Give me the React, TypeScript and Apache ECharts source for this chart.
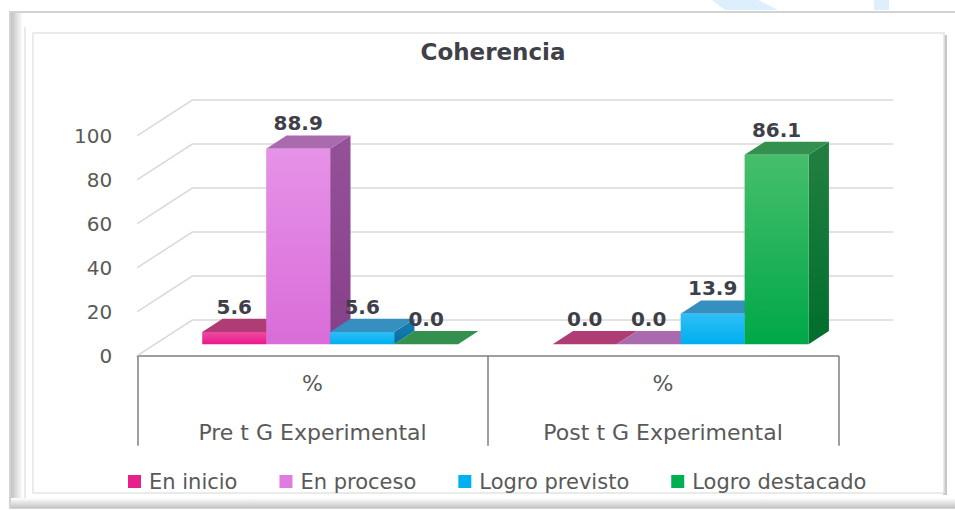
import React, { useEffect, useRef } from "react";
import * as echarts from "echarts";

const titleText = "Coherencia";
const categories = ["Pre t G Experimental", "Post t G Experimental"];
const innerLabel = "%";
const seriesNames = ["En inicio", "En proceso", "Logro previsto", "Logro destacado"];
const preValues = [5.6, 88.9, 5.6, 0.0];
const postValues = [0.0, 0.0, 13.9, 86.1];
const yTicks = [0, 20, 40, 60, 80, 100];

const palette = [
  { legend: "#E8208C", frontTop: "#F04A9F", frontBottom: "#E91A8A", top: "#B03C76", sideTop: "#A0306A", sideBottom: "#8E1E58" },
  { legend: "#E07BE2", frontTop: "#E692E8", frontBottom: "#D96CD8", top: "#AA6BAE", sideTop: "#945198", sideBottom: "#86408A" },
  { legend: "#00B0F0", frontTop: "#2EBEF7", frontBottom: "#00AEEF", top: "#3590C0", sideTop: "#1680B4", sideBottom: "#0A6E9E" },
  { legend: "#00B050", frontTop: "#46BE6B", frontBottom: "#00A848", top: "#34904F", sideTop: "#22803F", sideBottom: "#006E2E" },
];

const FONT = '"DejaVu Sans", Verdana, sans-serif';
const DX = 55;
const DY = 35.7;
const D1 = 0.32;
const D2 = 0.69;
const GROUP = 0.73;

function makeBarRender(s: number) {
  const p = palette[s];
  return (params: any, api: any) => {
    const ci = api.value(0);
    const v = api.value(1);
    const top = api.coord([ci, v]);
    const base = api.coord([ci, 0]);
    const band = api.size([1, 0])[0];
    const gw = band * GROUP;
    const bw = gw / 4;
    const x0 = top[0] - gw / 2 + s * bw;
    const fx = x0 + D1 * DX;
    const fyT = top[1] - D1 * DY;
    const fyB = base[1] - D1 * DY;
    const bdx = (D2 - D1) * DX;
    const bdy = (D2 - D1) * DY;
    const children: any[] = [];
    if (fyB - fyT > 0.5) {
      children.push({
        type: "polygon",
        shape: { points: [[fx + bw, fyT], [fx + bw + bdx, fyT - bdy], [fx + bw + bdx, fyB - bdy], [fx + bw, fyB]] },
        style: {
          fill: new echarts.graphic.LinearGradient(0, 0, 0, 1, [
            { offset: 0, color: p.sideTop },
            { offset: 1, color: p.sideBottom },
          ]),
        },
      });
    }
    children.push({
      type: "polygon",
      shape: { points: [[fx, fyT], [fx + bw, fyT], [fx + bw + bdx, fyT - bdy], [fx + bdx, fyT - bdy]] },
      style: { fill: p.top },
    });
    if (fyB - fyT > 0.5) {
      children.push({
        type: "rect",
        shape: { x: fx, y: fyT, width: bw, height: fyB - fyT },
        style: {
          fill: new echarts.graphic.LinearGradient(0, 0, 0, 1, [
            { offset: 0, color: p.frontTop },
            { offset: 1, color: p.frontBottom },
          ]),
        },
      });
    }
    children.push({
      type: "text",
      x: fx + bw / 2,
      y: fyT - bdy - 2,
      style: {
        text: Number(v).toFixed(1),
        align: "center",
        verticalAlign: "bottom",
        textAlign: "center",
        textVerticalAlign: "bottom",
        font: `bold 20px ${FONT}`,
        fill: "#3f3f4a",
      },
    });
    return { type: "group", children };
  };
}

export default function App() {
  const ref = useRef<HTMLDivElement>(null);
  useEffect(() => {
    if (!ref.current) return;
    const chart = echarts.init(ref.current, null, { renderer: "svg" });
    const wallSeries = {
      type: "custom",
      name: "walls",
      z: 1,
      silent: true,
      encode: { x: 0, y: 1 },
      data: yTicks.map((t) => [0, t]),
      renderItem: (params: any, api: any) => {
        const v = api.value(1);
        const cs = params.coordSys;
        const y = api.coord([0, v])[1];
        const xl = cs.x;
        const xr = cs.x + cs.width;
        return {
          type: "polyline",
          shape: { points: [[xl, y], [xl + DX, y - DY], [xr + DX, y - DY]] },
          style: { stroke: "#d9d9d9", lineWidth: 1.5, fill: null },
        };
      },
    };
    const barSeries = seriesNames.map((name, s) => ({
      type: "custom",
      name,
      z: 3,
      encode: { x: 0, y: 1 },
      itemStyle: { color: palette[s].legend },
      data: [
        [0, preValues[s]],
        [1, postValues[s]],
      ],
      renderItem: makeBarRender(s),
    }));
    const frameGraphics: any[] = [
      { type: "polygon", z: -20, shape: { points: [[712, 0], [758, 0], [778, 10], [725, 10]] }, style: { fill: "#ddeefc" } },
      { type: "rect", z: -20, shape: { x: 874, y: 0, width: 15, height: 10 }, style: { fill: "#ddeefc" } },
      { type: "rect", z: -15, shape: { x: 10, y: 12, width: 960, height: 496 }, style: { fill: "#ffffff", stroke: "#d2d2d2", lineWidth: 2 } },
      {
        type: "rect", z: -14, shape: { x: 11, y: 13, width: 12, height: 494 },
        style: { fill: new echarts.graphic.LinearGradient(0, 0, 1, 0, [{ offset: 0, color: "#c2c2c2" }, { offset: 1, color: "#ffffff" }]) },
      },
      {
        type: "rect", z: -14, shape: { x: 11, y: 498, width: 950, height: 10 },
        style: { fill: new echarts.graphic.LinearGradient(0, 0, 0, 1, [{ offset: 0, color: "#ffffff" }, { offset: 1, color: "#c4c4c4" }]) },
      },
      { type: "line", z: -13, shape: { x1: 25, y1: 27, x2: 25, y2: 498 }, style: { stroke: "#d6d6d6", lineWidth: 1 } },
      { type: "rect", z: -12, shape: { x: 943, y: 35, width: 4, height: 460 }, style: { fill: "#c6c6c6" } },
      { type: "rect", z: -11, shape: { x: 33, y: 33, width: 911, height: 460 }, style: { fill: "#ffffff", stroke: "#e4e4e4", lineWidth: 1.5 } },
    ];
    chart.setOption({
      animation: false,
      backgroundColor: "#ffffff",
      title: {
        text: titleText,
        left: 488,
        top: 35,
        textAlign: "center",
        textStyle: { fontFamily: FONT, fontSize: 23, fontWeight: "bold", color: "#404048" },
      },
      legend: {
        data: seriesNames,
        left: 128,
        top: 471,
        icon: "rect",
        itemWidth: 13,
        itemHeight: 13,
        itemGap: 42,
        padding: 0,
        textStyle: { fontFamily: FONT, fontSize: 21, color: "#595959", padding: [0, 0, 0, 3] },
      },
      graphic: frameGraphics,
      grid: { left: 137.3, right: 116.7, top: 135.7, bottom: 154.3, containLabel: false },
      xAxis: {
        type: "category",
        data: categories,
        axisLine: { show: true, lineStyle: { color: "#7f7f7f", width: 1.5 } },
        axisTick: { show: true, length: 90, interval: 0, lineStyle: { color: "#7f7f7f", width: 1.5 } },
        splitLine: { show: false },
        axisLabel: {
          interval: 0,
          margin: 3,
          formatter: (v: string) => `{p|${innerLabel}}\n{c|${v}}`,
          rich: {
            p: { fontFamily: FONT, fontSize: 22, lineHeight: 49, color: "#595959" },
            c: { fontFamily: FONT, fontSize: 22, lineHeight: 49, color: "#595959" },
          },
        },
      },
      yAxis: {
        type: "value",
        min: 0,
        max: 100,
        interval: 20,
        axisLine: { show: false },
        axisTick: { show: false },
        splitLine: { show: false },
        axisLabel: { fontFamily: FONT, fontSize: 20, color: "#595959", margin: 25 },
      },
      series: [wallSeries, ...barSeries],
    });
    return () => chart.dispose();
  }, []);
  return <div ref={ref} style={{ position: "absolute", left: 0, top: 0, width: 955, height: 510 }} />;
}
